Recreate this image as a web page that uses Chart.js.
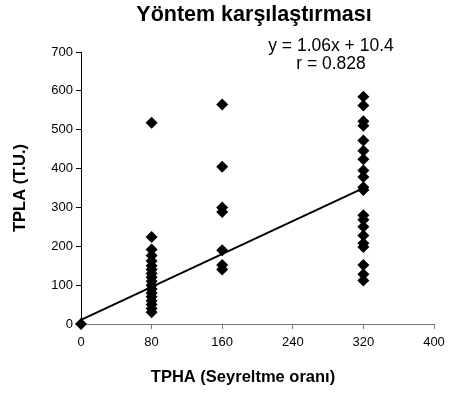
<!DOCTYPE html>
<html><head><meta charset="utf-8">
<script src="https://cdn.jsdelivr.net/npm/chart.js@4/dist/chart.umd.min.js"></script>
<style>html,body{margin:0;padding:0;background:#fff}#c{display:block}</style>
</head><body>
<canvas id="c" width="457" height="394"></canvas>
<script>
const dilution = [0, 80, 80, 80, 80, 80, 80, 80, 80, 80, 80, 80, 80, 80, 80, 80, 80, 80, 80,
  160, 160, 160, 160, 160, 160, 160,
  320, 320, 320, 320, 320, 320, 320, 320, 320, 320, 320, 320, 320, 320, 320, 320, 320, 320, 320, 320];
const tpla = [0, 518, 224, 192, 176, 162, 150, 140, 130, 120, 110, 100, 90, 80, 70, 60, 50, 40, 30,
  565, 405, 300, 288, 190, 152, 140,
  585, 562, 522, 510, 472, 446, 424, 395, 378, 352, 345, 280, 268, 250, 228, 208, 198, 152, 128, 112];
const slope = 1.06, intercept = 10.4;
const fitRange = [0, 320];
const xTicks = [0, 80, 160, 240, 320, 400];
const yTicks = [0, 100, 200, 300, 400, 500, 600, 700];
const chartTitle = 'Yöntem karşılaştırması';
const xTitle = 'TPHA (Seyreltme oranı)';
const yTitle = 'TPLA (T.U.)';
const eqLines = ['y = 1.06x + 10.4', 'r = 0.828'];

const pts = dilution.map((x, i) => ({x: x, y: tpla[i]}));
const fit = fitRange.map(x => ({x: x, y: slope * x + intercept}));

const FONT = "'Liberation Sans', Arial, sans-serif";

const textPlugin = {
  id: 'texts',
  afterDraw(chart) {
    const c = chart.ctx;
    c.save();
    c.fillStyle = '#000';
    c.textAlign = 'center';
    c.textBaseline = 'middle';
    c.font = "bold 21.5px " + FONT;
    c.fillText(chartTitle, 254, 15);
    c.font = "17.5px " + FONT;
    c.fillText(eqLines[0], 331, 46);
    c.fillText(eqLines[1], 331, 64);
    c.font = "bold 16.5px " + FONT;
    c.fillText(xTitle, 243, 377);
    c.translate(20, 188);
    c.rotate(-Math.PI / 2);
    c.fillText(yTitle, 0, 0);
    c.restore();
  }
};

new Chart(document.getElementById('c'), {
  type: 'scatter',
  data: {
    datasets: [
      {data: pts, pointStyle: 'rectRot', pointRadius: 6, pointHoverRadius: 6,
       backgroundColor: '#000', borderColor: '#000', borderWidth: 0, clip: false, order: 1},
      {type: 'line', data: fit, borderColor: '#000', borderWidth: 2, pointRadius: 0,
       fill: false, showLine: true, clip: false, order: 0}
    ]
  },
  options: {
    responsive: false,
    animation: false,
    events: [],
    layout: {padding: {left: 0, right: 23, top: 52, bottom: 0}},
    plugins: {
      legend: {display: false},
      tooltip: {enabled: false},
      title: {display: false}
    },
    scales: {
      x: {
        type: 'linear', min: 0, max: 400,
        afterBuildTicks: s => { s.ticks = xTicks.map(v => ({value: v})); },
        afterFit: s => { s.height = 70; },
        border: {display: true, color: '#777', width: 1},
        grid: {drawOnChartArea: false, drawTicks: true, tickLength: 5, color: '#777'},
        ticks: {color: '#000', font: {family: FONT, size: 13}, padding: 6, maxRotation: 0}
      },
      y: {
        type: 'linear', min: 0, max: 700,
        afterBuildTicks: s => { s.ticks = yTicks.map(v => ({value: v})); },
        afterFit: s => { s.width = 81; },
        border: {display: true, color: '#000', width: 1},
        grid: {drawOnChartArea: false, drawTicks: true, tickLength: 5, color: '#000'},
        ticks: {color: '#000', font: {family: FONT, size: 13}, padding: 3}
      }
    }
  },
  plugins: [textPlugin]
});
</script>
</body></html>
